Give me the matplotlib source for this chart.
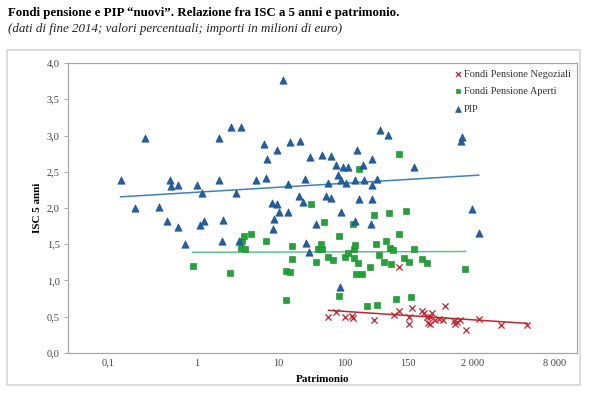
import matplotlib.pyplot as plt
import numpy as np
from matplotlib.patches import Rectangle
from matplotlib.ticker import FixedLocator, FixedFormatter

plt.rcParams['font.family'] = ['Liberation Serif', 'DejaVu Serif']

# patrimonio (milioni di euro) e ISC a 5 anni (%)
pip_x = [0.093, 0.147, 0.200, 0.31, 0.39, 0.435, 0.445, 0.56, 0.55, 0.68,
         0.99, 1.10, 1.17, 1.26, 1.96, 2.0, 2.16, 2.22, 2.85, 3.40,
         3.70, 3.97, 6.27, 7.96, 8.48, 8.91, 10.3, 10.5, 10.9, 11.9,
         11.9, 12.8, 14.7, 17.0, 17.1, 18.1, 24.1, 24.9, 26.8, 28.5,
         29.4, 32.3, 33.3, 40.2, 49.3, 55.3, 58.3, 64.1, 64.7, 75.5,
         80.4, 88.3, 84.8, 89.1, 94.8, 103, 109, 135, 138, 144,
         155, 177, 181, 224, 230, 234, 234, 268, 300, 381,
         863, 3700, 3850, 5250, 6410]
pip_y = [2.38, 2.00, 2.97, 2.02, 1.82, 2.38, 2.31, 2.32, 1.74, 1.51,
         2.32, 1.76, 2.21, 1.82, 2.97, 2.38, 1.54, 1.83, 3.12, 2.21,
         1.54, 3.12, 2.39, 2.88, 2.41, 2.68, 2.07, 1.71, 1.85, 2.80,
         2.05, 1.94, 3.76, 2.33, 1.94, 2.91, 2.17, 2.93, 2.08, 2.40,
         1.52, 1.39, 2.71, 1.78, 2.73, 2.16, 2.34, 2.72, 2.14, 2.59,
         2.45, 1.94, 0.91, 2.38, 2.56, 2.34, 2.56, 1.82, 2.38, 2.80,
         2.12, 2.59, 2.38, 1.78, 2.68, 2.32, 2.12, 2.40, 3.07, 3.01,
         2.56, 2.92, 2.98, 1.98, 1.66]

fpa_x = [0.875, 2.82, 3.90, 4.06, 4.28, 4.50, 5.37, 8.64, 15.8, 16.0,
         18.1, 19.4, 19.4, 34.4, 40.2, 43.6, 48.9, 47.8, 52.5, 59.4,
         68.2, 81.7, 83.8, 98.5, 111, 128, 134, 134, 138, 141,
         149, 153, 172, 198, 218, 248, 260, 273, 291, 337,
         353, 390, 409, 415, 452, 484, 532, 542, 624, 657,
         740, 773, 851, 1090, 1290, 4230]
fpa_y = [1.20, 1.11, 1.45, 1.55, 1.62, 1.44, 1.64, 1.54, 0.73, 1.13,
         1.12, 1.48, 1.29, 2.05, 1.26, 1.44, 1.44, 1.51, 1.81, 1.33,
         1.28, 0.78, 1.62, 1.33, 1.38, 1.78, 1.43, 1.31, 1.49, 1.09,
         1.24, 2.54, 1.09, 0.65, 1.18, 1.90, 1.51, 0.66, 1.35, 1.25,
         1.54, 1.93, 1.45, 1.23, 1.42, 0.74, 2.75, 1.64, 1.31, 1.96,
         1.25, 0.77, 1.43, 1.29, 1.24, 1.16]

fpn_x = [59.8, 75.5, 98.5, 126, 130, 248, 464, 542, 542, 740,
         733, 804, 1090, 1175, 1290, 1340, 1410, 1410, 1490, 1650,
         1880, 2110, 2220, 3000, 3060, 3300, 3550, 4280, 6530, 12900,
         29100]
fpn_y = [0.50, 0.57, 0.49, 0.51, 0.48, 0.46, 0.52, 0.58, 1.19, 0.50,
         0.40, 0.62, 0.58, 0.55, 0.49, 0.42, 0.49, 0.40, 0.55, 0.45,
         0.47, 0.46, 0.65, 0.44, 0.40, 0.43, 0.46, 0.32, 0.47, 0.39,
         0.39]

x_labels = ['0,1', '1', '10', '100', '150', '2 000', '8 000']
y_ticks = [0.0, 0.5, 1.0, 1.5, 2.0, 2.5, 3.0, 3.5, 4.0]

# label positions on the log axis (the original labels are not evenly spaced)
x_label_log = [-1.203, 0.0, 1.095, 2.0, 2.851, 3.730, 4.838]

blue = '#1f5fa8'
blue_line = '#3b82c4'
green = '#1fa637'
green_line = '#5cc48a'
red = '#c8202a'
red_line = '#c0262c'


def trend(ax, x, y, color):
    x = np.array(x)
    y = np.array(y)
    b, a = np.polyfit(np.log10(x), y, 1)
    xs = np.array([x.min(), x.max()])
    ax.plot(xs, a + b * np.log10(xs), color=color, lw=1.1, zorder=2)


fig = plt.figure(figsize=(6, 3.96), dpi=100)
ax = fig.add_axes([0.1133, 0.1086, 0.8484, 0.7323])

ax.scatter(fpn_x, fpn_y, marker='x', s=20, color=red, linewidths=0.9,
           label='Fondi Pensione Negoziali', zorder=3)
ax.scatter(fpa_x, fpa_y, marker='s', s=20, color=green, edgecolors='#17852b',
           linewidths=0.4, label='Fondi Pensione Aperti', zorder=3)
ax.scatter(pip_x, pip_y, marker='^', s=28, color=blue, edgecolors='#174a86',
           linewidths=0.4, label='PIP', zorder=3)

trend(ax, pip_x, pip_y, blue_line)
trend(ax, fpa_x, fpa_y, green_line)
trend(ax, fpn_x, fpn_y, red_line)

ax.set_xscale('log')
ax.set_xlim(10 ** -1.743, 10 ** 5.135)
ax.set_ylim(0, 4)
ax.xaxis.set_major_locator(FixedLocator([10 ** v for v in x_label_log]))
ax.xaxis.set_major_formatter(FixedFormatter(x_labels))
ax.xaxis.set_minor_locator(FixedLocator([]))
ax.set_yticks(y_ticks)
ax.set_yticklabels([f'{v:.1f}'.replace('.', ',') for v in y_ticks])
ax.tick_params(axis='x', length=0, labelsize=7.5, colors='#444444', pad=4)
ax.tick_params(axis='y', length=3, width=0.6, labelsize=7.5, colors='#444444',
               pad=3)
ax.tick_params(axis='y', color='#999999')
for s in ax.spines.values():
    s.set_color('#a6a6a6')
    s.set_linewidth(0.9)

ax.set_ylabel('ISC 5 anni', fontsize=8, fontweight='bold', labelpad=3)
ax.set_xlabel('Patrimonio', fontsize=8, fontweight='bold')
ax.xaxis.set_label_coords(0.5, -0.075)

leg = ax.legend(loc='upper right', bbox_to_anchor=(1.0, 1.0), frameon=False,
                fontsize=7.5, handletextpad=0.1, handlelength=1.0,
                labelspacing=0.8, markerscale=0.8, borderaxespad=0.2)
for t in leg.get_texts():
    t.set_color('#333333')

fig.patches.append(Rectangle((0.012, 0.027), 0.955, 0.848, transform=fig.transFigure,
                             fill=False, edgecolor='#dddddd', lw=1.5))

fig.text(0.013, 0.966, 'Fondi pensione e PIP “nuovi”. Relazione fra ISC a 5 anni e patrimonio.',
         fontsize=9.3, fontweight='bold', va='center', ha='left')
fig.text(0.013, 0.927, '(dati di fine 2014; valori percentuali; importi in milioni di euro)',
         fontsize=9.4, style='italic', va='center', ha='left', color='#222222')

fig.savefig('out.png', dpi=100)
